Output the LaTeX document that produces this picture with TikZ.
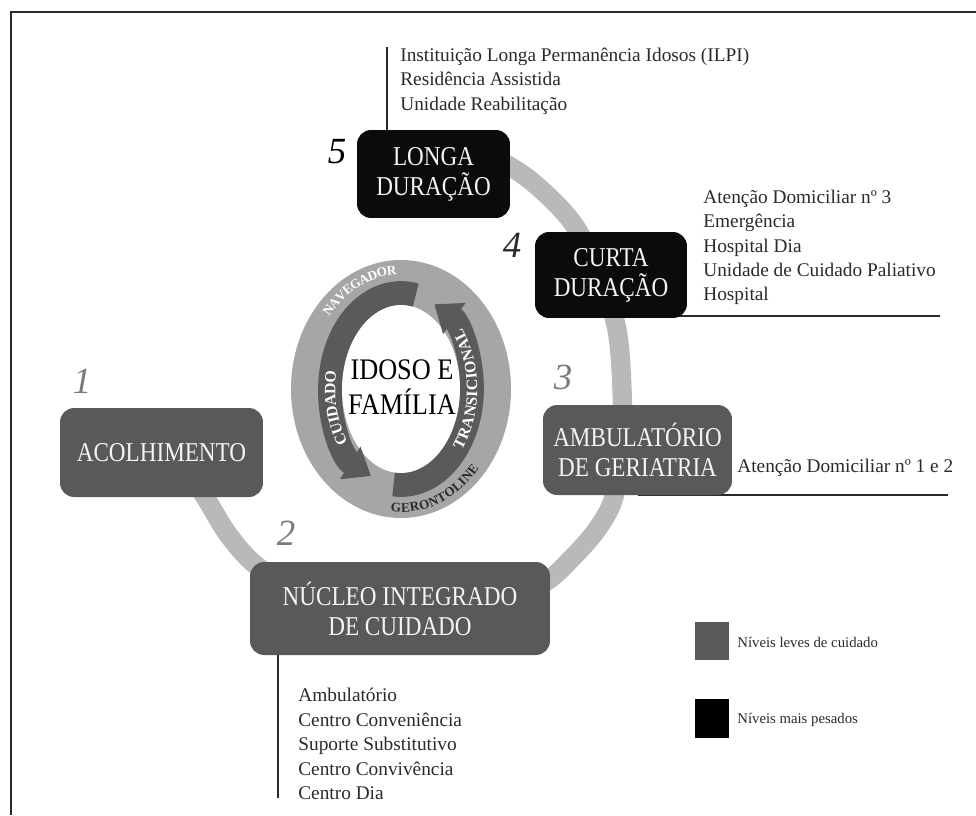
\documentclass[tikz,border=0pt]{standalone}
\usepackage{fontspec}
\setmainfont{Liberation Serif}
\newfontfamily\boxfont[FakeStretch=0.85]{Liberation Serif}
\newfontfamily\heartfont[FakeStretch=0.88]{Liberation Serif}
\usetikzlibrary{arrows.meta,decorations.text,calc}

\definecolor{boxgray}{HTML}{595959}
\definecolor{boxblack}{HTML}{0B0B0B}
\definecolor{pathgray}{HTML}{B9B9B9}
\definecolor{ringlight}{HTML}{A6A6A6}
\definecolor{ringdark}{HTML}{5A5A5A}
\definecolor{inkline}{HTML}{2A2A2A}
\definecolor{numgray}{HTML}{7A7A7A}
\definecolor{boxtext}{HTML}{F4F4F4}

\newcommand\ringsmall{\fontsize{7.5}{8}\selectfont\bfseries}
\newcommand\ringmid{\fontsize{9}{10}\selectfont\bfseries}

\pgfdeclarelayer{background}
\pgfsetlayers{background,main}

\tikzset{
  levelbox/.style={rounded corners=8pt, inner sep=0pt, align=center, text=boxtext,
    font=\boxfont\fontsize{15.5}{17}\selectfont},
  lightlevel/.style={levelbox, fill=boxgray},
  heavylevel/.style={levelbox, fill=boxblack},
  itemlist/.style={anchor=west, align=left, inner sep=0pt, text=inkline,
    font=\fontsize{11}{13.9}\selectfont},
  stepnum/.style={inner sep=0pt, font=\itshape\fontsize{21}{21}\selectfont},
  leader/.style={draw=inkline, line width=1.1pt},
  pathring/.style={draw=pathgray, line width=11pt},
  careband/.style={draw=ringdark, line width=13.5pt, -{Triangle[length=14pt,width=21pt]}},
  keysq/.style={inner sep=0pt, minimum width=0.68cm, minimum height=0.77cm},
  keytext/.style={anchor=west, inner sep=0pt, text=inkline, font=\fontsize{8.4}{10}\selectfont}
}

\begin{document}
\begin{tikzpicture}[x=0.02cm, y=-0.02cm]
\useasboundingbox (0,0) rectangle (976,815);

% frame
\draw[line width=1.4pt, draw=inkline] (976,12) -- (11,12) -- (11,815);

% care levels
\node[lightlevel, minimum width=4.06cm, minimum height=1.78cm] (acolh) at (161.5,452.5) {ACOLHIMENTO};
\node[lightlevel, minimum width=6.0cm, minimum height=1.86cm] (nucleo) at (400,608.5) {NÚCLEO INTEGRADO\\DE CUIDADO};
\node[lightlevel, minimum width=3.78cm, minimum height=1.80cm] (ambul) at (637.5,450) {AMBULATÓRIO\\DE GERIATRIA};
\node[heavylevel, minimum width=3.04cm, minimum height=1.72cm] (curta) at (611,275) {CURTA\\DURAÇÃO};
\node[heavylevel, minimum width=3.06cm, minimum height=1.76cm] (longa) at (433.5,174) {LONGA\\DURAÇÃO};

% step numbers
\node[stepnum, text=numgray] (n1) at (82,381) {1};
\node[stepnum, text=numgray] (n2) at (286,533) {2};
\node[stepnum, text=numgray] (n3) at (563,377) {3};
\node[stepnum, text=inkline] (n4) at (512,245) {4};
\node[stepnum, text=black] (n5) at (337,152) {5};

% services at each level
\node[itemlist] (ltxt) at (400,81) {Instituição Longa Permanência Idosos (ILPI)\\Residência Assistida\\Unidade Reabilitação};
\node[itemlist] (ctxt) at (703,247.5) {Atenção Domiciliar nº 3\\Emergência\\Hospital Dia\\Unidade de Cuidado Paliativo\\Hospital};
\node[itemlist] (atxt) at (737,468) {Atenção Domiciliar nº 1 e 2};
\node[itemlist] (ntxt) at (298,744) {Ambulatório\\Centro Conveniência\\Suporte Substitutivo\\Centro Convivência\\Centro Dia};

\coordinate (ltop) at (387,47);
\coordinate (nbot) at (278,798);
\coordinate (cend) at (940,316);
\coordinate (aend) at (948,495);

\begin{pgfonlayer}{background}
  % path through the levels
  \draw[pathring] plot[smooth, tension=0.55] coordinates {(185,465) (207,500) (230,537) (262,570) (330,610) (400,622) (470,612) (540,585) (572,558) (598,528) (614,497) (622,445) (622,390) (617,330) (600,275) (572,222) (530,180) (490,155)};
  % leaders
  \draw[leader] (ltop) -- (ltop |- longa.north);
  \draw[leader] (nbot |- nucleo.south) -- (nbot);
  \draw[leader] (cend -| curta.center) -- (cend);
  \draw[leader] (aend -| ambul.center) -- (aend);
\end{pgfonlayer}

% central ring
\coordinate (C) at (401,389);
\fill[ringlight] (C) ellipse [x radius=110, y radius=129];
\fill[white] (C) ellipse [x radius=59, y radius=84];
\draw[careband] (C) ++(-78:71 and 96) arc[start angle=-78, end angle=-245, x radius=71, y radius=96];
\draw[careband] (C) ++(-264:71 and 96) arc[start angle=-264, end angle=-422, x radius=71, y radius=96];

\path[decorate, decoration={text along path, text align=center, text color=white, raise=-2.5pt,
  text={|\ringsmall|NAVEGADOR}}]
  (C) ++(-152:97 and 119) arc[start angle=-152, end angle=-80, x radius=97, y radius=119];
\path[decorate, decoration={text along path, text align=center, text color=inkline, raise=-2.5pt,
  text={|\ringsmall|GERONTOLINE}}]
  (C) ++(-255:97 and 119) arc[start angle=-255, end angle=-328, x radius=97, y radius=119];
\path[decorate, decoration={text along path, text align=center, text color=white, raise=-3pt,
  text={|\ringmid|CUIDADO}}]
  (C) ++(-233:71 and 96) arc[start angle=-233, end angle=-153, x radius=71, y radius=96];
\path[decorate, decoration={text along path, text align=center, text color=white, raise=-3pt,
  text={|\ringmid|TRANSICIONAL}}]
  (C) ++(50:71 and 96) arc[start angle=50, end angle=-50, x radius=71, y radius=96];

\node[inner sep=0pt, align=center, font=\heartfont\fontsize{17}{19.5}\selectfont] (core) at (402,387) {IDOSO E\\FAMÍLIA};

% key
\node[keysq, fill=boxgray] (klight) at (712,641) {};
\node[keysq, fill=black] (kheavy) at (712,718.5) {};
\node[keytext] (kt1) at (737,642) {Níveis leves de cuidado};
\node[keytext] (kt2) at (737,720) {Níveis mais pesados};
\end{tikzpicture}
\end{document}
